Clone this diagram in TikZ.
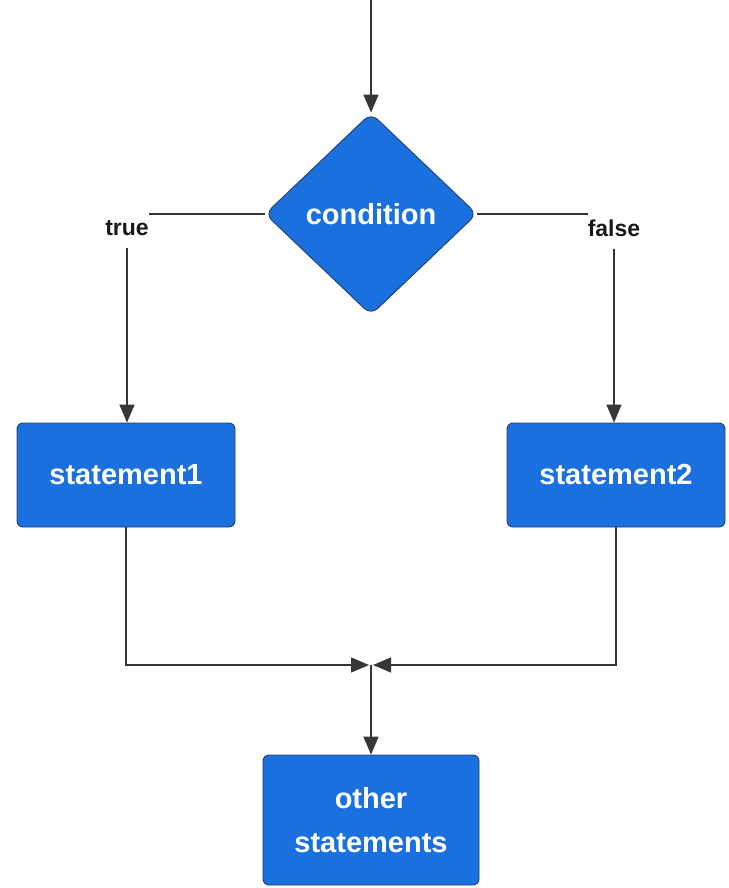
\documentclass[tikz,border=0pt]{standalone}
\usepackage{fontspec}
\setmainfont{Liberation Sans}
\usetikzlibrary{shapes.geometric,arrows.meta}
\definecolor{boxblue}{RGB}{26,112,222}
\definecolor{boxedge}{RGB}{40,62,100}
\definecolor{linegrey}{RGB}{55,55,55}
\tikzset{
  flowbox/.style={draw=boxedge, line width=0.9pt, fill=boxblue, text=white,
    font=\bfseries\fontsize{29}{44}\selectfont, rounded corners=6pt, inner sep=0pt, align=center},
  decision/.style={flowbox, diamond, minimum width=212pt, minimum height=202pt, rounded corners=9pt},
  branchlabel/.style={font=\bfseries\fontsize{23}{28}\selectfont, text=black!90, inner sep=0pt},
  flow/.style={draw=linegrey, line width=1.5pt},
  flowarrow/.style={flow, -{Triangle[length=18pt,width=15pt]}}
}
\begin{document}
\begin{tikzpicture}[x=1pt,y=-1pt]
  \useasboundingbox (0,0) rectangle (728,888);
  % nodes
  \node[decision] (cond) at (371,214) {condition};
  \node[branchlabel] (true) at (127,228) {true};
  \node[branchlabel] (false) at (614,228) {false};
  \node[flowbox, minimum width=218pt, minimum height=104pt] (s1) at (126,475) {statement1};
  \node[flowbox, minimum width=218pt, minimum height=104pt] (s2) at (616,475) {statement2};
  \node[flowbox, minimum width=216pt, minimum height=130pt] (other) at (371,820) {other\\statements};
  \coordinate (entry) at (371,0);
  \coordinate (jl) at (369,665);
  \coordinate (jr) at (373,665);
  \coordinate (jc) at (371,665);
  % connectors
  \draw[flowarrow] (entry) -- (cond.north);
  \draw[flow] (cond.west) -- (cond.west -| true.east);
  \draw[flow] (cond.east) -- (cond.east -| false.west);
  \draw[flowarrow] ([yshift=-12pt]true.south) -- (true.south |- s1.north);
  \draw[flowarrow] ([yshift=-12pt]false.south) -- (false.south |- s2.north);
  \draw[flowarrow] (s1.south) |- (jl);
  \draw[flowarrow] (s2.south) |- (jr);
  \draw[flowarrow] (jc) -- (other.north);
\end{tikzpicture}
\end{document}
